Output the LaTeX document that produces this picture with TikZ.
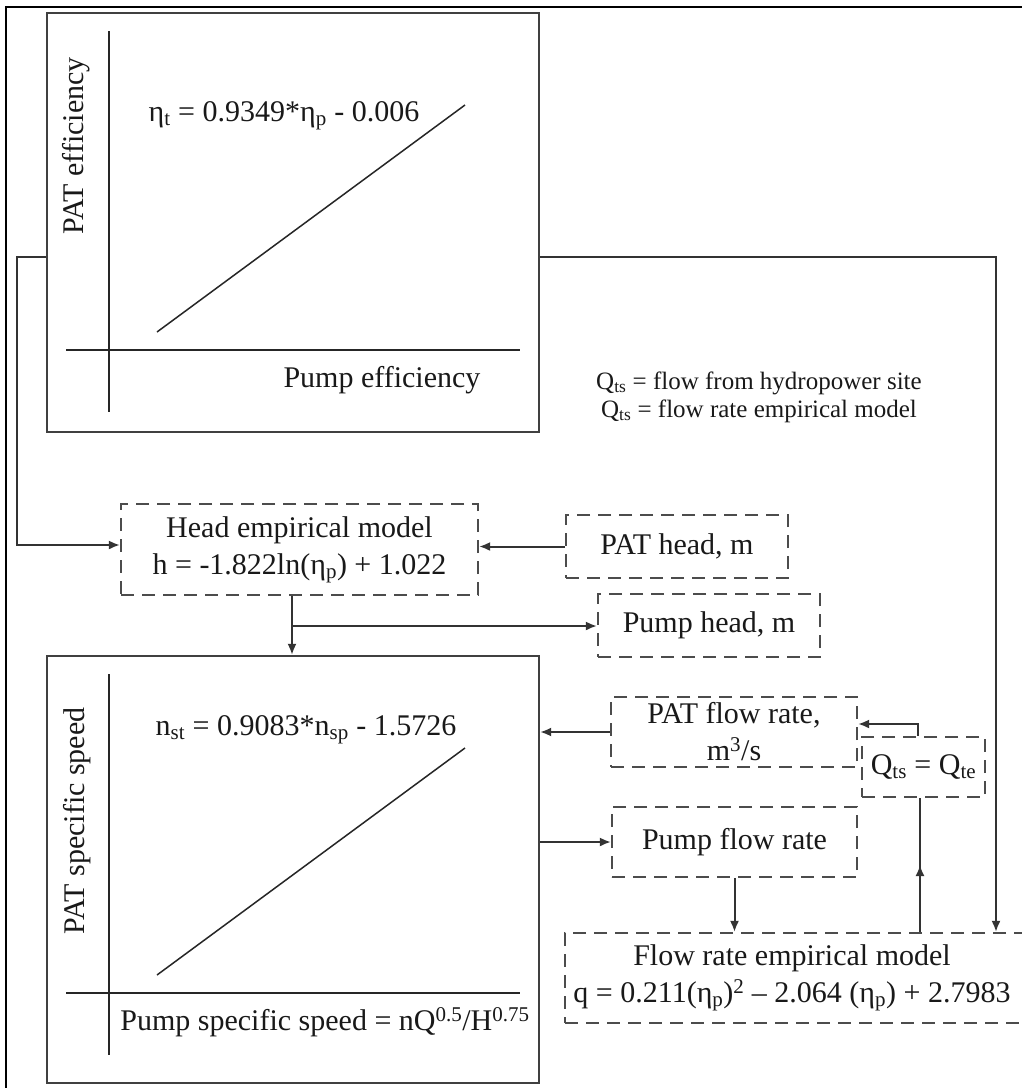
\documentclass[tikz,border=0pt]{standalone}
\usepackage{fontspec}
\setmainfont{Liberation Serif}
\usetikzlibrary{arrows.meta,decorations.markings}
\begin{document}
\begin{tikzpicture}[x=1pt,y=-1pt,
  every node/.style={font=\fontsize{30}{37}\selectfont, text=black!90, inner sep=0pt, align=center},
  plotbox/.style={draw=black!75, line width=2.3pt, minimum width=492pt, minimum height=#1},
  dbox/.style={draw=black!70, line width=2.2pt, dash pattern=on 13pt off 8pt},
  axis/.style={draw=black!85, line width=1.9pt},
  fitline/.style={draw=black!85, line width=1.5pt},
  conn/.style={draw=black!80, line width=2pt},
  arr/.style={conn, -{Latex[length=11pt,width=9pt]}},
  midarr/.style={conn, postaction={decorate}, decoration={markings, mark=at position 0.5 with {\arrow{Latex[length=11pt,width=9pt]}}}},
  leg/.style={font=\fontsize{25}{28}\selectfont}
]
\useasboundingbox (0,0) rectangle (1022,1088);
\clip (0,0) rectangle (1022,1088);
\fill[white] (0,0) rectangle (1022,1088);
\draw[line width=1.5pt, black] (6,7) rectangle (1060,1120);

% top plot
\node[plotbox=419pt] (topbox) at (293,222.5) {};
\draw[axis] (109,31) -- (109,412);
\draw[axis] (66,350) -- (520,350);
\draw[fitline] (157,332) -- (465,105);
\node (eq1) at (284,116) {η\textsubscript{t} = 0.9349*η\textsubscript{p} - 0.006};
\node (xl1) at (382,380) {Pump efficiency};
\node[rotate=90] (yl1) at (76,146) {PAT efficiency};

% bottom plot
\node[plotbox=427pt] (botbox) at (293,869.5) {};
\draw[axis] (109,674) -- (109,1055);
\draw[axis] (66,993) -- (520,993);
\draw[fitline] (157,975) -- (465,748);
\node (eq2) at (306,730) {n\textsubscript{st} = 0.9083*n\textsubscript{sp} - 1.5726};
\node (xl2) at (325,1022) {Pump specific speed = nQ\textsuperscript{0.5}/H\textsuperscript{0.75}};
\node[rotate=90] (yl2) at (77,821) {PAT specific speed};

% legend
\node[leg] (leg1) at (759,383) {Q\textsubscript{ts} = flow from hydropower site};
\node[leg] (leg2) at (759,411) {Q\textsubscript{ts} = flow rate empirical model};

% dashed boxes
\node[dbox, minimum width=357pt, minimum height=91pt] (headbox) at (299.5,549.5) {Head empirical model\\h = -1.822ln(η\textsubscript{p}) + 1.022};
\node[dbox, minimum width=222pt, minimum height=63pt] (pathead) at (677,546.5) {PAT head, m};
\node[dbox, minimum width=222pt, minimum height=63pt] (pumphead) at (709,625.5) {Pump head, m};
\node[dbox, minimum width=246pt, minimum height=70pt] (patflow) at (734,732) {PAT flow rate,\\m\textsuperscript{3}/s};
\node[dbox, minimum width=123pt, minimum height=60pt] (qbox) at (923.5,767) {Q\textsubscript{ts} = Q\textsubscript{te}};
\node[dbox, minimum width=245pt, minimum height=70pt] (pumpflow) at (734.5,842) {Pump flow rate};
\node[dbox, minimum width=480pt, minimum height=90pt, anchor=west] (flowmodel) at (564,978) {};
\node (flowtext) at (792,978) {Flow rate empirical model\\q = 0.211(η\textsubscript{p})\textsuperscript{2} – 2.064 (η\textsubscript{p}) + 2.7983};

% connectors
\coordinate (l1) at (17,257);
\coordinate (l2) at (17,545);
\draw[arr] (l1 -| topbox.west) -- (l1) -- (l2) -- (l2 -| headbox.west);
\coordinate (r1) at (996,257);
\draw[arr] (r1 -| topbox.east) -- (r1) -- (r1 |- flowmodel.north);
\draw[arr] (pathead.west) -- (pathead.west -| headbox.east);
\coordinate (hb) at (292,626);
\draw[arr] (hb |- headbox.south) -- (hb |- botbox.north);
\draw[arr] (hb) -- (hb -| pumphead.west);
\draw[arr] (patflow.west) -- (patflow.west -| botbox.east);
\coordinate (q1) at (918,724);
\draw[arr] (q1 |- qbox.north) -- (q1) -- (q1 -| patflow.east);
\draw[arr] (pumpflow.west -| botbox.east) -- (pumpflow.west);
\draw[arr] (pumpflow.south) -- (pumpflow.south |- flowmodel.north);
\coordinate (q2) at (920,900);
\draw[midarr] (q2 |- flowmodel.north) -- (q2 |- qbox.south);
\end{tikzpicture}
\end{document}
